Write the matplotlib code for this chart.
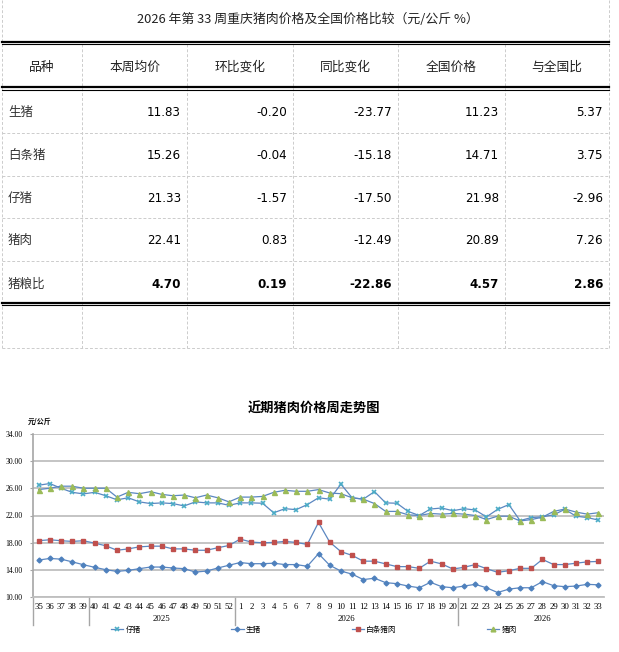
import matplotlib
matplotlib.use("Agg")
import matplotlib.pyplot as plt
from matplotlib.lines import Line2D

plt.rcParams['font.family'] = ['Noto Sans CJK SC', 'DejaVu Sans']

# table data
table_title = '2026 年第 33 周重庆猪肉价格及全国价格比较（元/公斤 %）'
table_cols = ['品种', '本周均价', '环比变化', '同比变化', '全国价格', '与全国比']
table_rows = ['生猪', '白条猪', '仔猪', '猪肉', '猪粮比']
table_vals = [
    ['11.83', '-0.20', '-23.77', '11.23', '5.37'],
    ['15.26', '-0.04', '-15.18', '14.71', '3.75'],
    ['21.33', '-1.57', '-17.50', '21.98', '-2.96'],
    ['22.41', '0.83', '-12.49', '20.89', '7.26'],
    ['4.70', '0.19', '-22.86', '4.57', '2.86'],
]

# chart data
chart_title = '近期猪肉价格周走势图'
week_labels = [35, 36, 37, 38, 39, 40, 41, 42, 43, 44, 45, 46, 47, 48, 49, 50, 51, 52,
               1, 2, 3, 4, 5, 6, 7, 8, 9, 10, 11, 12, 13, 14, 15, 16, 17, 18, 19, 20,
               21, 22, 23, 24, 25, 26, 27, 28, 29, 30, 31, 32, 33]
year_labels = ['2025', '2026', '2026']
piglet = [26.44, 26.69, 26.0, 25.4, 25.17, 25.4, 24.9, 24.3, 24.6, 24.0, 23.75, 23.85, 23.75, 23.4, 24.0, 23.85, 23.85, 23.5,
          23.85, 23.85, 23.8, 22.4, 23.0, 22.86, 23.6, 24.6, 24.4, 26.6, 24.6, 24.4, 25.5, 23.85, 23.8, 22.6, 22.0, 22.95, 23.1, 22.7,
          23.0, 22.8, 21.8, 22.9, 23.6, 21.25, 21.7, 21.8, 22.1, 22.9, 21.9, 21.7, 21.33]
hog = [15.46, 15.7, 15.6, 15.2, 14.78, 14.4, 14.05, 13.8, 13.95, 14.2, 14.44, 14.44, 14.3, 14.2, 13.7, 13.85, 14.3, 14.7,
       15.1, 14.93, 14.93, 15.0, 14.8, 14.8, 14.55, 16.4, 14.7, 13.85, 13.4, 12.6, 12.8, 12.15, 12.0, 11.65, 11.4, 12.2, 11.56, 11.4,
       11.65, 11.9, 11.4, 10.7, 11.2, 11.4, 11.4, 12.3, 11.7, 11.56, 11.65, 11.9, 11.83]
carcass = [18.3, 18.44, 18.3, 18.2, 18.3, 17.95, 17.56, 16.9, 17.1, 17.4, 17.5, 17.5, 17.1, 17.1, 16.9, 16.9, 17.27, 17.6,
           18.54, 18.1, 18.0, 18.05, 18.2, 18.05, 17.76, 20.98, 18.1, 16.7, 16.15, 15.3, 15.3, 14.9, 14.5, 14.5, 14.25, 15.3, 14.9, 14.15,
           14.4, 14.8, 14.2, 13.66, 13.9, 14.25, 14.25, 15.56, 14.8, 14.8, 15.0, 15.2, 15.26]
pork = [25.8, 26.0, 26.3, 26.3, 26.0, 26.0, 26.0, 24.7, 25.4, 25.2, 25.5, 25.1, 24.9, 25.0, 24.6, 25.0, 24.6, 24.0,
        24.7, 24.7, 24.8, 25.4, 25.7, 25.55, 25.55, 25.8, 25.3, 25.2, 24.6, 24.4, 23.75, 22.6, 22.6, 22.1, 22.0, 22.3, 22.2, 22.3,
        22.2, 22.0, 21.4, 21.9, 21.9, 21.2, 21.4, 21.75, 22.6, 22.95, 22.5, 22.2, 22.41]
series_names = ['仔猪', '生猪', '白条猪肉', '猪肉']

W, H = 619, 652
fig = plt.figure(figsize=(W / 100, H / 100), dpi=100)

# ---- table drawn in pixel space ----
tb = fig.add_axes([0, 0, 1, 1])
tb.set_xlim(0, W)
tb.set_ylim(H, 0)
tb.axis('off')

col_x = [2, 82, 187, 293, 398, 505, 609]
row_y = [90, 133, 176, 218, 261, 305]
grid_c = '#cccccc'

tb.text(W / 2 - 2, 19, table_title, ha='center', va='center', fontsize=9.3, color='#222222')

# outer dashed borders
for x in (col_x[0], col_x[-1]):
    tb.plot([x, x], [0, 348], color=grid_c, lw=0.7, ls=(0, (3, 2)))
# inner verticals
for x in col_x[1:-1]:
    tb.plot([x, x], [44, 348], color=grid_c, lw=0.7, ls=(0, (3, 2)))
# dashed horizontals
for y in row_y[1:-1] + [348]:
    tb.plot([col_x[0], col_x[-1]], [y, y], color=grid_c, lw=0.7, ls=(0, (3, 2)))
# double rules
for y in (43, 88.5, 304):
    tb.plot([col_x[0], col_x[-1]], [y - 1.2, y - 1.2], color='black', lw=1.6)
    tb.plot([col_x[0], col_x[-1]], [y + 1.4, y + 1.4], color='black', lw=0.8)

for j, name in enumerate(table_cols):
    tb.text((col_x[j] + col_x[j + 1]) / 2, 67, name, ha='center', va='center',
            fontsize=9.2, color='#222222')

for i, name in enumerate(table_rows):
    yc = (row_y[i] + row_y[i + 1]) / 2 + 1
    tb.text(col_x[0] + 6, yc, name, ha='left', va='center', fontsize=9, color='#333333')
    bold = (name == '猪粮比')
    for j, v in enumerate(table_vals[i]):
        tb.text(col_x[j + 2] - 6, yc, v, ha='right', va='center', fontsize=8.6,
                family='DejaVu Sans', fontweight='bold' if bold else 'normal', color='black')

# ---- line chart ----
left, right, top, bottom = 33, 604, 433.7, 597.3
ax = fig.add_axes([left / W, (H - bottom) / H, (right - left) / W, (bottom - top) / H])
ax.patch.set_alpha(0)
x = list(range(len(week_labels)))
line_c = '#5b87c1'

ax.plot(x, piglet, color=line_c, lw=0.9, marker='x', ms=3.3, mew=1.2, mec='#4bacc6', mfc='#4bacc6', label=series_names[0])
ax.plot(x, hog, color=line_c, lw=0.9, marker='D', ms=2.5, mec='#4f81bd', mfc='#4f81bd', label=series_names[1])
ax.plot(x, carcass, color=line_c, lw=0.9, marker='s', ms=3.2, mec='#c0504d', mfc='#c0504d', label=series_names[2])
ax.plot(x, pork, color=line_c, lw=0.9, marker='^', ms=3.6, mec='#9bbb59', mfc='#9bbb59', label=series_names[3])

ax.set_xlim(-0.5, len(week_labels) - 0.5)
ax.set_ylim(10, 34)
ax.set_yticks([10, 14, 18, 22, 26, 30, 34])
ax.set_yticklabels(['%.2f' % v for v in [10, 14, 18, 22, 26, 30, 34]],
                   family='Liberation Serif', fontsize=5.5)
ax.set_xticks(x)
ax.set_xticklabels([str(w) for w in week_labels], family='Liberation Serif', fontsize=6.3)
ax.tick_params(axis='x', length=0, pad=4)
ax.tick_params(axis='y', length=2.5, color='#a6a6a6', pad=5)
ax.yaxis.grid(True, color='#bfbfbf', lw=1.3)
ax.set_axisbelow(True)
for s in ('top', 'right'):
    ax.spines[s].set_visible(False)
ax.spines['left'].set_color('#a6a6a6')
ax.spines['left'].set_linewidth(1.2)
ax.spines['bottom'].set_color('#bfbfbf')
ax.spines['bottom'].set_linewidth(1.3)

# group separators of the two-level category axis
ext = -(625 - bottom) / (bottom - top)
trans = ax.get_xaxis_transform()
for sep in (-0.5, 4.5, 17.5, 37.5):
    ax.plot([sep, sep], [0, ext], color='#a6a6a6', lw=1.0, transform=trans, clip_on=False)
for pos, yl in zip((11, 27.5, 45), year_labels):
    ax.text(pos, -(619 - bottom) / (bottom - top), yl, transform=trans, ha='center', va='center',
            family='Liberation Serif', fontsize=6.3)

fig.text(314 / W, 1 - 408.5 / H, chart_title, ha='center', va='center', fontsize=9.5, fontweight='bold')
fig.text(28 / W, 1 - 421 / H, '元/公斤', ha='left', va='center', fontsize=5, fontweight='bold', style='italic')

handles = [Line2D([], [], color=line_c, lw=0.9, marker=m, ms=ms, mec=c, mfc=c, mew=mw)
           for m, ms, c, mw in (('x', 3, '#4bacc6', 1.2), ('D', 2.4, '#4f81bd', 1), ('s', 3, '#c0504d', 1), ('^', 3.4, '#9bbb59', 1))]
fig.legend(handles, series_names, ncol=4, loc='lower left', mode='expand',
           bbox_to_anchor=(108 / W, 1 - 637 / H, 412 / W, 0.02), frameon=False,
           fontsize=5.5, handlelength=1.6, handletextpad=0.3, borderaxespad=0)

fig.savefig('out.png', dpi=100)
